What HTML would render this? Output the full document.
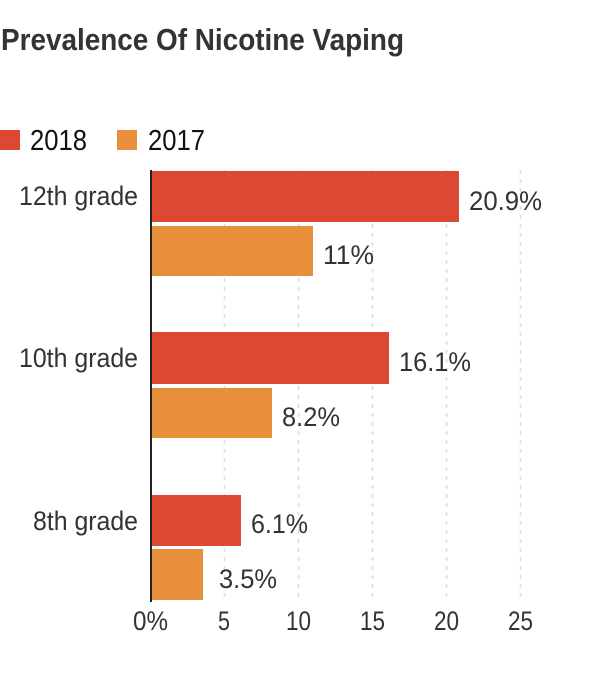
<!DOCTYPE html>
<html><head><style>
html,body{margin:0;padding:0;background:#fff;}
svg text{font-family:"Liberation Sans Narrow","Liberation Sans",sans-serif;}
</style></head><body>
<svg width="600" height="682" xmlns="http://www.w3.org/2000/svg">
<text x="1" y="50" font-size="31" font-weight="bold" fill="#333" textLength="403" lengthAdjust="spacingAndGlyphs">Prevalence Of Nicotine Vaping</text>
<rect x="0" y="130" width="20" height="20" fill="#dd4833"/>
<text x="30" y="150" font-size="29" fill="#111" textLength="57" lengthAdjust="spacingAndGlyphs">2018</text>
<rect x="117" y="130" width="20" height="20" fill="#e88f3c"/>
<text x="148" y="150" font-size="29" fill="#111" textLength="57" lengthAdjust="spacingAndGlyphs">2017</text>
<g stroke="#ddd" stroke-width="1.5" stroke-dasharray="4,5">
<line x1="224.5" y1="170" x2="224.5" y2="602"/>
<line x1="298.5" y1="170" x2="298.5" y2="602"/>
<line x1="372.5" y1="170" x2="372.5" y2="602"/>
<line x1="446.5" y1="170" x2="446.5" y2="602"/>
<line x1="520.5" y1="170" x2="520.5" y2="602"/>
</g>
<g fill="#dd4833">
<rect x="152" y="171" width="307" height="51"/>
<rect x="152" y="332" width="237" height="52"/>
<rect x="152" y="495" width="89" height="51"/>
</g>
<g fill="#e88f3c">
<rect x="152" y="226" width="161" height="50"/>
<rect x="152" y="388" width="120" height="50"/>
<rect x="152" y="549" width="51" height="51"/>
</g>
<line x1="151" y1="170" x2="151" y2="602" stroke="#222" stroke-width="2"/>
<g font-size="27" fill="#333" lengthAdjust="spacingAndGlyphs">
<text x="19" y="205" textLength="119" lengthAdjust="spacingAndGlyphs">12th grade</text>
<text x="19" y="367" textLength="119" lengthAdjust="spacingAndGlyphs">10th grade</text>
<text x="33" y="530" textLength="105" lengthAdjust="spacingAndGlyphs">8th grade</text>
<text x="469" y="210" textLength="73" lengthAdjust="spacingAndGlyphs">20.9%</text>
<text x="323" y="264" textLength="51" lengthAdjust="spacingAndGlyphs">11%</text>
<text x="399" y="371" textLength="72" lengthAdjust="spacingAndGlyphs">16.1%</text>
<text x="282" y="426" textLength="58" lengthAdjust="spacingAndGlyphs">8.2%</text>
<text x="251" y="533" textLength="57" lengthAdjust="spacingAndGlyphs">6.1%</text>
<text x="219" y="588" textLength="58" lengthAdjust="spacingAndGlyphs">3.5%</text>
<text x="133" y="630" textLength="35" lengthAdjust="spacingAndGlyphs">0%</text>
<text x="218" y="630" textLength="12" lengthAdjust="spacingAndGlyphs">5</text>
<text x="286" y="630" textLength="25" lengthAdjust="spacingAndGlyphs">10</text>
<text x="360" y="630" textLength="25" lengthAdjust="spacingAndGlyphs">15</text>
<text x="434" y="630" textLength="25" lengthAdjust="spacingAndGlyphs">20</text>
<text x="508" y="630" textLength="25" lengthAdjust="spacingAndGlyphs">25</text>
</g>
</svg>
</body></html>
